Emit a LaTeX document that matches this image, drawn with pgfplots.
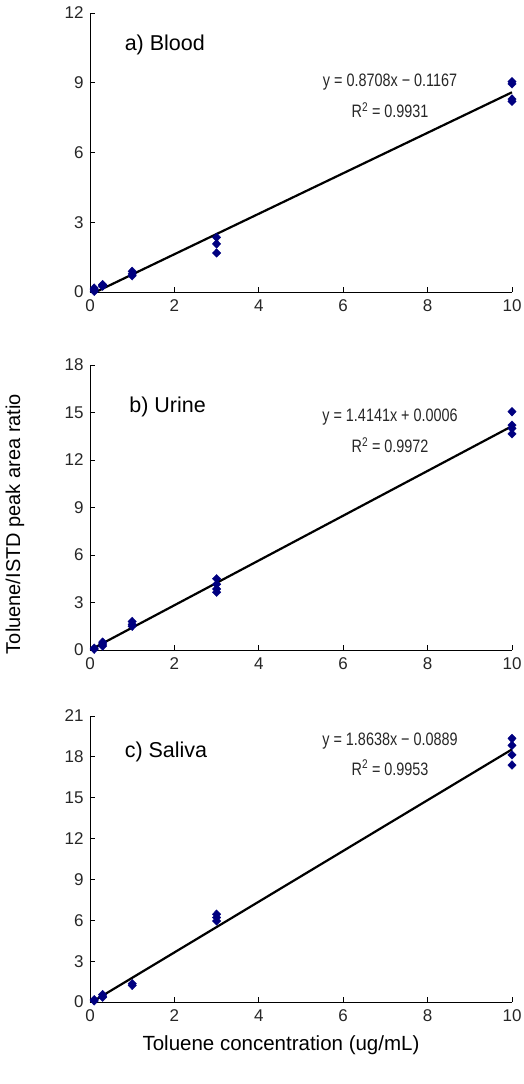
\documentclass[border=0pt]{standalone}
\usepackage{pgfplots}
\pgfplotsset{compat=1.18}
\usepackage{fontspec}
\usepackage{graphicx}
\setmainfont{Liberation Sans}
\definecolor{ptnavy}{RGB}{0,0,128}

\pgfplotsset{
  calib/.style={
    scale only axis,
    width=422pt,
    axis x line*=bottom,
    axis y line*=left,
    axis line style={black, line width=0.8pt},
    xmin=0, xmax=10,
    xtick={0,2,...,10},
    tick align=inside,
    major tick length=5pt,
    tick style={black, line width=0.8pt},
    clip=false,
    /pgf/number format/assume math mode=true,
    ticklabel style={font=\fontsize{17}{17}\selectfont, text=black!85},
    xticklabel style={yshift=-4pt},
    yticklabel style={xshift=-3pt},
  },
  pts/.style={only marks, mark=diamond*, mark size=4.3pt, color=ptnavy,
    mark options={xscale=1.3}},
  fit/.style={black, line width=2.2pt, no marks},
}
\tikzset{
  panel/.style={anchor=west, font=\fontsize{21.5}{21.5}\selectfont},
  eq/.style={font=\fontsize{18}{18}\selectfont, text=black!85},
}
\newcommand{\cond}[1]{\scalebox{0.8}[1]{#1}}

\begin{document}
\begin{tikzpicture}
\path[use as bounding box] (-90pt,0pt) rectangle (434pt,-1084pt);

% a) Blood
\begin{axis}[calib, at={(0pt,-292pt)}, anchor=south west, height=279pt,
  ymin=0, ymax=12, ytick={0,3,...,12}]
\addplot[pts] coordinates {
  (0.1,0.17) (0.1,0.03) (0.1,0.10)
  (0.3,0.32) (0.3,0.25) (0.3,0.28)
  (1,0.89) (1,0.78) (1,0.70)
  (3,2.35) (3,2.07) (3,1.68)
  (10,9.05) (10,8.95) (10,8.30) (10,8.20)
};
\addplot[fit] coordinates {(0.1,-0.03) (10,8.59)};
\node[panel] at (axis cs:0.74,10.62) {a) Blood};
\node[eq] at (axis cs:7.11,9.03) {\cond{y = 0.8708x − 0.1167}};
\node[eq] at (axis cs:7.11,7.83) {\cond{R\textsuperscript{2} = 0.9931}};
\end{axis}

% b) Urine
\begin{axis}[calib, at={(0pt,-650pt)}, anchor=south west, height=285pt,
  ymin=0, ymax=18, ytick={0,3,...,18}]
\addplot[pts] coordinates {
  (0.1,0.12) (0.1,0.05)
  (0.3,0.50) (0.3,0.38) (0.3,0.25)
  (1,1.80) (1,1.62) (1,1.50)
  (3,4.50) (3,4.15) (3,3.85) (3,3.65)
  (10,15.05) (10,14.20) (10,14.00) (10,13.65)
};
\addplot[fit] coordinates {(0.1,0.14) (10,14.14)};
\node[panel] at (axis cs:0.85,15.37) {b) Urine};
\node[eq] at (axis cs:7.11,14.72) {\cond{y = 1.4141x + 0.0006}};
\node[eq] at (axis cs:7.11,12.95) {\cond{R\textsuperscript{2} = 0.9972}};
\end{axis}

% c) Saliva
\begin{axis}[calib, at={(0pt,-1002pt)}, anchor=south west, height=286pt,
  ymin=0, ymax=21, ytick={0,3,...,21}]
\addplot[pts] coordinates {
  (0.1,0.17) (0.1,0.08)
  (0.3,0.55) (0.3,0.42) (0.3,0.35)
  (1,1.35) (1,1.22)
  (3,6.45) (3,6.20) (3,5.95)
  (10,19.35) (10,18.85) (10,18.15) (10,17.40)
};
\addplot[fit] coordinates {(0.1,0.10) (10,18.55)};
\node[panel] at (axis cs:0.74,18.36) {c) Saliva};
\node[eq] at (axis cs:7.11,19.19) {\cond{y = 1.8638x − 0.0889}};
\node[eq] at (axis cs:7.11,17.20) {\cond{R\textsuperscript{2} = 0.9953}};
\end{axis}

\node[rotate=90, font=\fontsize{20}{20}\selectfont] at (-75pt,-524pt) {Toluene/ISTD peak area ratio};
\node[font=\fontsize{20.5}{20.5}\selectfont] at (191pt,-1045pt) {Toluene concentration (ug/mL)};
\end{tikzpicture}
\end{document}
